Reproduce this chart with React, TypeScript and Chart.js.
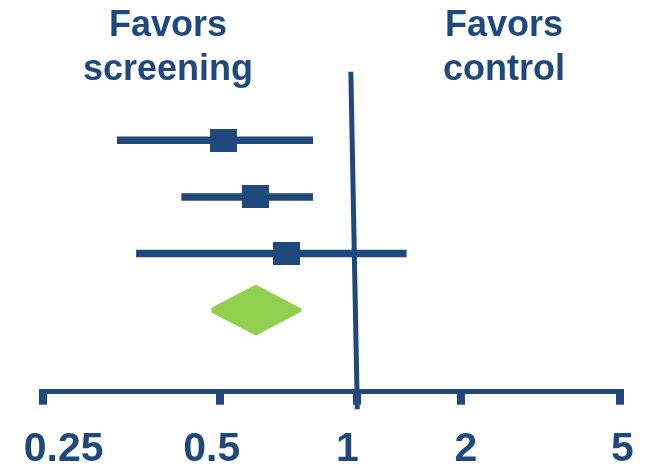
import React, { useEffect, useRef } from "react";
import { Chart, registerables } from "chart.js";

Chart.register(...registerables);

// ---- data ----
const studies = ["Study 1", "Study 2", "Study 3"];
const estimates = [0.51, 0.6, 0.7];
const lowerCI = [0.334, 0.43, 0.36];
const upperCI = [0.8, 0.8, 1.39];
const pooledEstimate = 0.6;
const pooledLower = 0.485;
const pooledUpper = 0.746;
const nullEffect = 1;
const nullLineTop = 0.968; // the drawn reference line leans slightly
const tickValues = [0.25, 0.5, 1, 2, 5];
const tickLabels = ["0.25", "0.5", "1", "2", "5"];
const leftLabel = ["Favors", "screening"];
const rightLabel = ["Favors", "control"];

// ---- axis layout (the source axis has unequal spacing between ticks,
//      and its labels sit a little off their tick marks) ----
const tickStops = [0, 176.4, 314, 417.7, 576.2];
const labelShift = [20.4, -8, -10, 4.8, 3];

const BLUE = "#1F497D";
const GREEN = "#92D050";
const FONT = "'Liberation Sans', Arial, sans-serif";

function warp(v: number): number {
  const n = tickValues.length;
  let i = 0;
  while (i < n - 2 && v > tickValues[i + 1]) i++;
  const t0 = tickValues[i], t1 = tickValues[i + 1];
  const s0 = tickStops[i], s1 = tickStops[i + 1];
  return s0 + ((s1 - s0) * Math.log(v / t0)) / Math.log(t1 / t0);
}

export default function App() {
  const ref = useRef<HTMLCanvasElement | null>(null);

  useEffect(() => {
    if (!ref.current) return;
    const sq = document.createElement("canvas");
    sq.width = 27;
    sq.height = 23;
    const sctx = sq.getContext("2d")!;
    sctx.fillStyle = BLUE;
    sctx.fillRect(0, 0, 27, 23);

    const pooledRow = studies.length + 1;
    const dh = 0.4;

    const ciSets = studies.map((s, i) => ({
      label: s + " CI",
      data: [
        { x: warp(lowerCI[i]), y: i + 1 },
        { x: warp(upperCI[i]), y: i + 1 },
      ],
      showLine: true,
      borderColor: BLUE,
      borderWidth: 7.5,
      borderCapStyle: "butt" as const,
      pointRadius: 0,
      order: 2,
    }));

    const XMIN = -1.5;
    const XMAX = 576.2;

    const chart = new Chart(ref.current, {
      type: "scatter",
      data: {
        datasets: [
          {
            label: "estimates",
            data: estimates.map((e, i) => ({ x: warp(e), y: i + 1 })),
            pointStyle: sq as any,
            pointRadius: 12,
            showLine: false,
            order: 0,
          },
          ...ciSets,
          {
            label: "pooled",
            data: [
              { x: warp(pooledLower), y: pooledRow },
              { x: warp(pooledEstimate), y: pooledRow - dh },
              { x: warp(pooledUpper), y: pooledRow },
              { x: warp(pooledEstimate), y: pooledRow + dh },
              { x: warp(pooledLower), y: pooledRow },
            ],
            showLine: true,
            fill: "shape",
            backgroundColor: GREEN,
            borderColor: GREEN,
            borderWidth: 5,
            borderJoinStyle: "round",
            pointRadius: 0,
            order: 1,
          } as any,
          {
            label: "null",
            data: [
              { x: warp(nullLineTop), y: -0.21 },
              { x: warp(nullEffect), y: 5.75 },
            ],
            showLine: true,
            borderColor: BLUE,
            borderWidth: 5,
            borderCapStyle: "butt",
            pointRadius: 0,
            clip: false,
            order: 3,
          } as any,
        ],
      },
      options: {
        animation: false,
        responsive: true,
        maintainAspectRatio: false,
        layout: { padding: { left: 41.8, right: 27.5, top: 55.3, bottom: -26.3 } },
        plugins: { legend: { display: false }, tooltip: { enabled: false } },
        scales: {
          x: {
            type: "linear",
            position: "bottom",
            weight: 0,
            min: XMIN,
            max: XMAX,
            afterBuildTicks: (scale: any) => {
              scale.ticks = tickValues.map((v) => ({ value: warp(v) }));
            },
            ticks: { display: false, autoSkip: false },
            grid: {
              drawOnChartArea: false,
              drawTicks: true,
              tickLength: 13,
              tickWidth: 8,
              tickColor: BLUE,
              lineWidth: 8,
              color: BLUE,
            },
            border: { display: true, width: 5, color: BLUE },
          },
          xLabels: {
            type: "linear",
            position: "bottom",
            weight: 1,
            min: XMIN,
            max: XMAX,
            afterBuildTicks: (scale: any) => {
              scale.ticks = tickValues.map((v, i) => ({ value: warp(v) + labelShift[i] }));
            },
            ticks: {
              autoSkip: false,
              maxRotation: 0,
              padding: 0,
              color: BLUE,
              font: { family: FONT, size: 41, weight: "bold", lineHeight: 89.6 / 41 },
              callback: (_v: any, idx: number) => tickLabels[idx],
            },
            grid: { display: false, drawTicks: false },
            border: { display: false },
          },
          y: {
            type: "linear",
            display: false,
            min: -0.5,
            max: 5.44,
            reverse: true,
          },
        },
      },
    });
    return () => chart.destroy();
  }, []);

  const textStyle: React.CSSProperties = {
    position: "absolute",
    top: 2.2,
    width: 300,
    textAlign: "center",
    fontFamily: FONT,
    fontWeight: "bold",
    fontSize: 36,
    lineHeight: "44px",
    color: BLUE,
    pointerEvents: "none",
  };

  return (
    <div
      style={{
        position: "absolute",
        left: 0,
        top: 0,
        width: 647,
        height: 468,
        background: "#fff",
      }}
    >
      <canvas ref={ref} />
      <div style={{ ...textStyle, left: 168 - 150 }}>
        {leftLabel[0]}
        <br />
        {leftLabel[1]}
      </div>
      <div style={{ ...textStyle, left: 504 - 150 }}>
        {rightLabel[0]}
        <br />
        {rightLabel[1]}
      </div>
    </div>
  );
}
